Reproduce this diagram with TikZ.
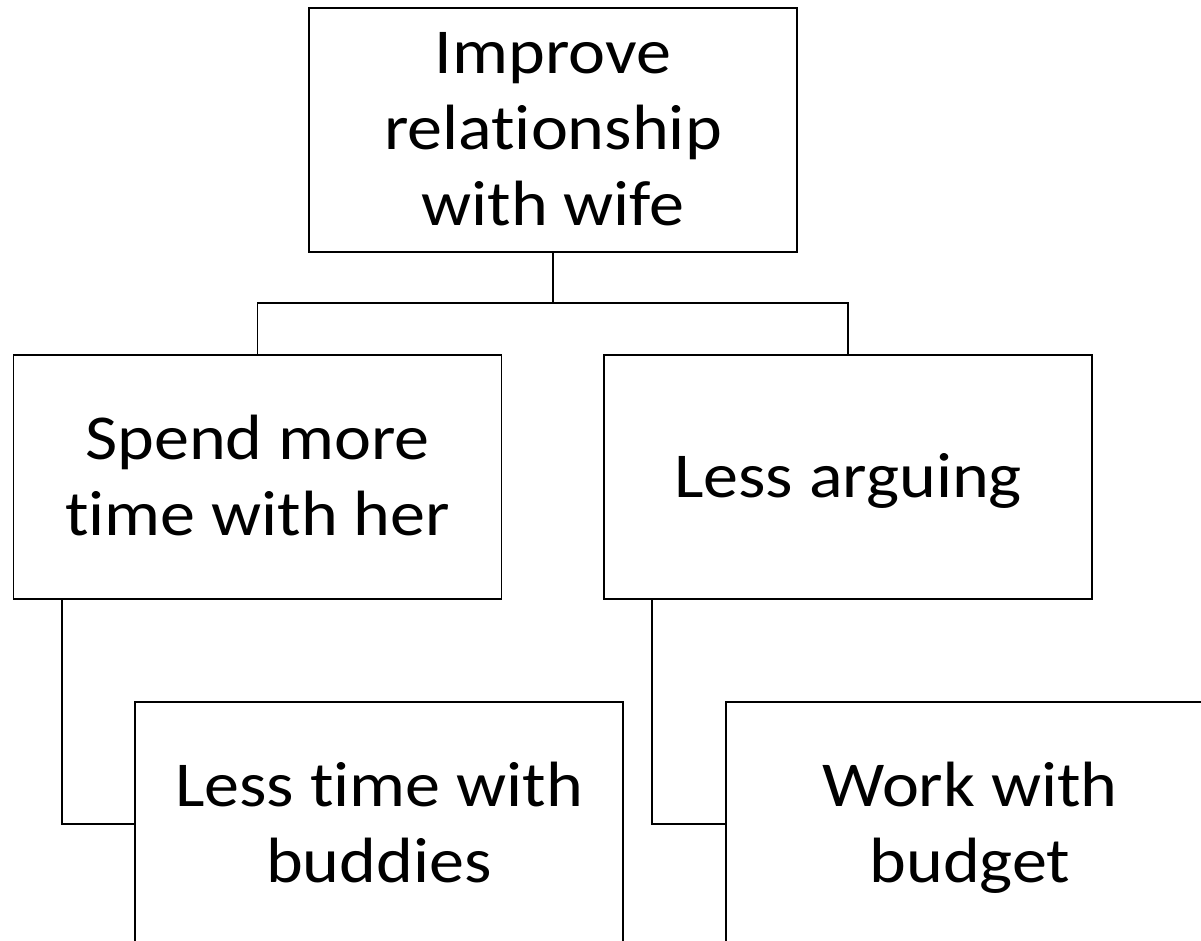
\documentclass[tikz,border=0pt]{standalone}
\usepackage{fontspec}
\setmainfont[Ligatures=NoCommon,RawFeature=-liga]{Carlito}
\newcommand\boxline[1]{\rule[-18pt]{0pt}{76pt}\scalebox{1.095}[1]{#1}}
\begin{document}
\begin{tikzpicture}[x=1pt,y=-1pt,
  box/.style={draw=black,line width=1.6pt,rectangle,inner sep=0pt,
    minimum width=488pt,minimum height=244pt,align=center,
    font=\fontsize{64}{76}\selectfont},
  conn/.style={draw=black,line width=1.6pt}]
\useasboundingbox (0,0) rectangle (1201,941);
\clip (0,0) rectangle (1201,941);
\node[box] (top) at (553,130) {\boxline{Improve}\\\boxline{relationship}\\\boxline{with wife}};
\node[box] (l) at (257.5,477) {\boxline{Spend more}\\\boxline{time with her}};
\node[box] (r) at (848,477) {\boxline{Less arguing}};
\node[box] (bl) at (379,824) {\boxline{Less time with}\\\boxline{buddies}};
\node[box] (br) at (970,824) {\boxline{Work with}\\\boxline{budget}};
\coordinate (j) at (553,303);
\draw[conn] (top.south) -- (j);
\draw[conn] (l.north) |- (j) -| (r.north);
\draw[conn] ([xshift=49pt]l.south west) |- (bl.west);
\draw[conn] ([xshift=49pt]r.south west) |- (br.west);
\end{tikzpicture}
\end{document}
